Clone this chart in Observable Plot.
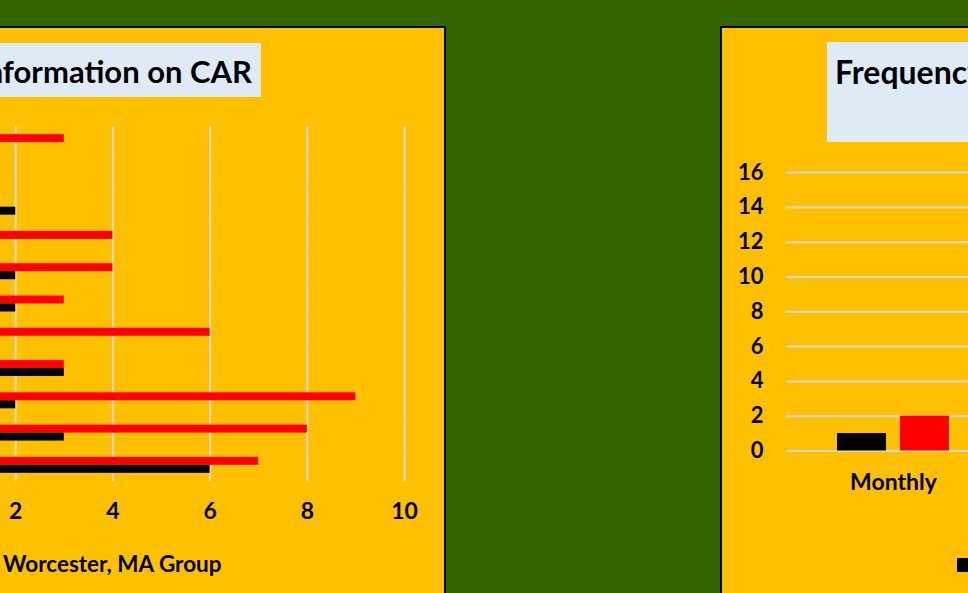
<!DOCTYPE html>
<html><head><meta charset="utf-8">
<script src="https://cdn.jsdelivr.net/npm/d3@7"></script>
<script src="https://cdn.jsdelivr.net/npm/@observablehq/plot@0.6"></script>
<style>
html,body{margin:0;padding:0;}
body{width:968px;height:593px;overflow:hidden;background:#336600;position:relative;font-family:Lato,"Open Sans",sans-serif;font-weight:bold;color:#000;}
.abs{position:absolute;}
.panel{position:absolute;background:#FFC000;border:2px solid #000;box-sizing:border-box;}
.titlebox{position:absolute;background:#DEEBF7;}
.ttl{position:absolute;font-size:32px;line-height:32px;white-space:nowrap;}
.leg{position:absolute;font-size:22.5px;line-height:22px;white-space:nowrap;}
.sw{position:absolute;width:14px;height:14px;}
svg{max-width:none !important;}
</style></head><body>
<div class="panel" style="left:-500px;top:26px;width:946px;height:700px;"></div>
<div class="panel" style="left:720px;top:26px;width:500px;height:700px;"></div>
<div class="titlebox" style="left:-300px;top:43px;width:561px;height:54px;"></div>
<div class="ttl" style="right:716px;top:55px;font-size:31px;" id="t1"></div>
<div class="titlebox" style="left:827px;top:42px;width:300px;height:100px;"></div>
<div class="ttl" style="left:835px;top:55.5px;" id="t2"></div>
<div id="left" class="abs" style="left:-300px;top:0px;"></div>
<div id="right" class="abs" style="left:721px;top:0px;"></div>
<div id="legL"></div>
<div id="legR"></div>
<script>
// ---- data ----
const leftTitle = "Information on CAR";
const rightTitle = "Frequency";
const seriesNames = ["Worcester, MA Group", "Other Group"];
const seriesColors = ["#ff0000", "#000000"];

const sourceCategories = ["Source 1","Source 2","Source 3","Source 4","Source 5","Source 6","Source 7","Source 8","Source 9","Source 10","Source 11"];
const worcesterSources = [3, 0, 0, 4, 4, 3, 6, 3, 9, 8, 7];
const otherSources     = [0, 0, 2, 0, 2, 2, 0, 3, 2, 3, 6];
const xTicks = [0, 2, 4, 6, 8, 10];

const freqCategories = ["Monthly"];
const worcesterFreq = [2];
const otherFreq = [1];
const yTicks = [0, 2, 4, 6, 8, 10, 12, 14, 16];

document.getElementById("t1").textContent = leftTitle;
document.getElementById("t2").textContent = rightTitle;

const style = {background: "transparent", fontFamily: "Lato, 'Open Sans', sans-serif", fontWeight: "bold", color: "#000", overflow: "visible"};

// ---- left chart ----
const leftRows = sourceCategories.flatMap((c, i) => [
  {category: c, series: seriesNames[0], value: worcesterSources[i]},
  {category: c, series: seriesNames[1], value: otherSources[i]}
]);

const leftPlot = Plot.plot({
  width: 745, height: 531,
  marginLeft: 218, marginRight: 41, marginTop: 126, marginBottom: 50,
  facet: {data: leftRows, y: "category"},
  fy: {domain: sourceCategories, padding: 0, round: false},
  y: {domain: seriesNames, paddingInner: 0, paddingOuter: 1.02, axis: null, round: false},
  x: {domain: [0, 10]},
  color: {domain: seriesNames, range: seriesColors},
  style,
  marks: [
    Plot.gridX(xTicks, {stroke: "#d9d9d9", strokeOpacity: 1, strokeWidth: 2}),
    Plot.barX(leftRows, {x: "value", y: "series", fill: "series"}),
    Plot.axisX(xTicks, {anchor: "bottom", tickSize: 0, tickPadding: 21, label: null, fontSize: 23}),
    Plot.axisFy({anchor: "left", tickSize: 0, label: null, fontSize: 16})
  ]
});
document.getElementById("left").append(leftPlot);

// ---- right chart ----
const rightSeries = [seriesNames[1], seriesNames[0]];
const rightRows = freqCategories.flatMap((c, i) => [
  {cat: c, series: seriesNames[1], value: otherFreq[i]},
  {cat: c, series: seriesNames[0], value: worcesterFreq[i]}
]);

const rightPlot = Plot.plot({
  width: 300, height: 511,
  marginLeft: 65, marginRight: 21, marginTop: 172, marginBottom: 60.5,
  facet: {data: rightRows, x: "cat"},
  fx: {domain: freqCategories, padding: 0, round: false},
  x: {domain: rightSeries, paddingInner: 0.222, paddingOuter: 0.81, axis: null, round: false},
  y: {domain: [0, 16]},
  color: {domain: seriesNames, range: seriesColors},
  style,
  marks: [
    Plot.gridY(yTicks, {stroke: "#d9d9d9", strokeOpacity: 1, strokeWidth: 2}),
    Plot.barY(rightRows, {x: "series", y: "value", fill: "series"}),
    Plot.axisY(yTicks, {anchor: "left", tickSize: 0, tickPadding: 23, label: null, fontSize: 22}),
    Plot.axisFx({anchor: "bottom", tickSize: 0, tickPadding: 23, label: null, fontSize: 23})
  ]
});
document.getElementById("right").append(rightPlot);

// ---- legends ----
function legend(container, items, x0, top) {
  let x = x0;
  items.forEach(it => {
    const sw = document.createElement("div");
    sw.className = "sw";
    sw.style.left = x + "px"; sw.style.top = (top + 5) + "px"; sw.style.background = it.color;
    container.append(sw);
    const tx = document.createElement("div");
    tx.className = "leg";
    tx.style.left = (x + 20) + "px"; tx.style.top = top + "px";
    tx.textContent = it.name;
    container.append(tx);
    x += 20 + it.name.length * 11 + 30;
  });
}
legend(document.getElementById("legL"), [{name: seriesNames[0], color: seriesColors[0]}], -17, 553);
legend(document.getElementById("legR"), [{name: seriesNames[1], color: seriesColors[1]}, {name: seriesNames[0], color: seriesColors[0]}], 957, 553);
</script>
</body></html>
